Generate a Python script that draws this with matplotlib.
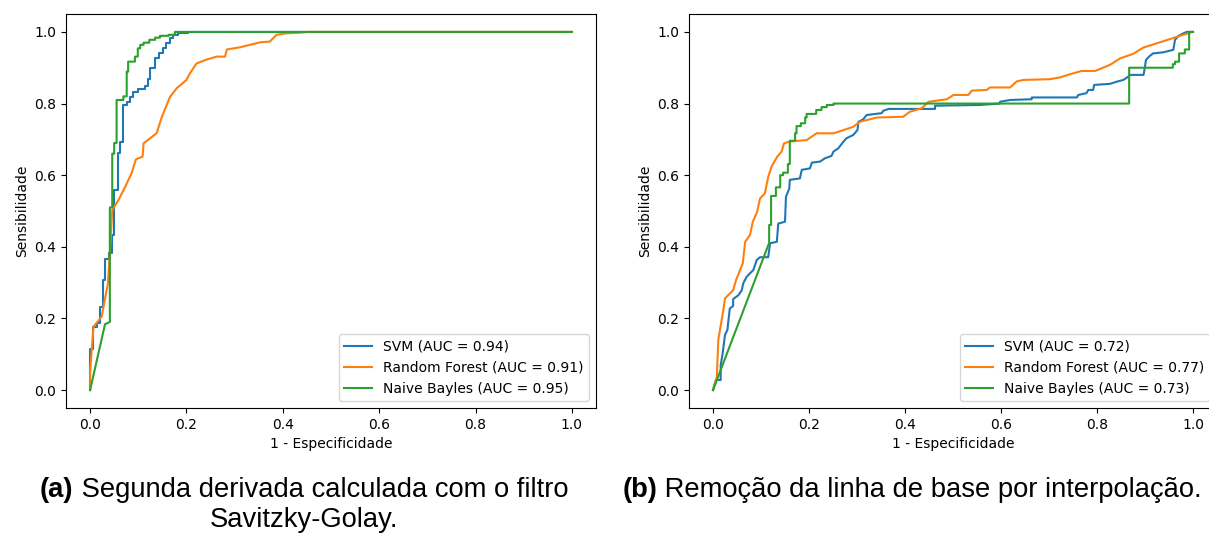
import matplotlib
matplotlib.use("Agg")
import matplotlib.pyplot as plt

# (a) Segunda derivada - Savitzky-Golay
svm_a_fpr = [0.0, 0.0, 0.007, 0.007, 0.014, 0.014, 0.021, 0.021, 0.026, 0.026, 0.031, 0.031,
             0.040, 0.040, 0.045, 0.045, 0.050, 0.050, 0.057, 0.057, 0.062, 0.062, 0.069, 0.069,
             0.076, 0.076, 0.083, 0.083, 0.090, 0.090, 0.100, 0.100, 0.114, 0.114, 0.121, 0.121,
             0.124, 0.124, 0.135, 0.135, 0.142, 0.142, 0.152, 0.152, 0.158, 0.158, 0.166, 0.166,
             0.173, 0.173, 0.183, 0.183, 0.204, 0.204, 1.0]
svm_a_tpr = [0.0, 0.115, 0.115, 0.177, 0.177, 0.187, 0.187, 0.233, 0.233, 0.307, 0.307, 0.366,
             0.366, 0.383, 0.383, 0.433, 0.433, 0.559, 0.559, 0.662, 0.662, 0.694, 0.694, 0.796,
             0.796, 0.805, 0.805, 0.819, 0.819, 0.831, 0.831, 0.840, 0.840, 0.849, 0.849, 0.868,
             0.868, 0.898, 0.898, 0.926, 0.926, 0.940, 0.940, 0.954, 0.954, 0.968, 0.968, 0.982,
             0.982, 0.992, 0.992, 0.996, 0.996, 1.0, 1.0]

rf_a_fpr = [0.0, 0.0, 0.007, 0.024, 0.037, 0.041, 0.046, 0.059, 0.073, 0.086, 0.095, 0.109,
            0.111, 0.138, 0.149, 0.166, 0.180, 0.200, 0.207, 0.221, 0.242, 0.263, 0.280, 0.284,
            0.311, 0.332, 0.353, 0.373, 0.387, 0.408, 0.439, 0.45, 1.0]
rf_a_tpr = [0.0, 0.05, 0.177, 0.205, 0.298, 0.382, 0.503, 0.531, 0.568, 0.605, 0.644, 0.652,
            0.689, 0.717, 0.763, 0.819, 0.843, 0.866, 0.884, 0.912, 0.923, 0.931, 0.931, 0.951,
            0.957, 0.964, 0.971, 0.973, 0.992, 0.996, 0.998, 1.0, 1.0]

nb_a_fpr = [0.0, 0.031, 0.041, 0.041, 0.046, 0.046, 0.050, 0.050, 0.055, 0.055, 0.069, 0.069,
            0.076, 0.076, 0.079, 0.079, 0.093, 0.093, 0.099, 0.099, 0.104, 0.104, 0.111, 0.111,
            0.123, 0.123, 0.135, 0.135, 0.145, 0.145, 0.163, 0.163, 0.176, 0.176, 1.0]
nb_a_tpr = [0.0, 0.184, 0.19, 0.51, 0.51, 0.66, 0.66, 0.69, 0.69, 0.81, 0.81, 0.82,
            0.82, 0.889, 0.889, 0.917, 0.917, 0.931, 0.931, 0.954, 0.954, 0.964, 0.964, 0.970,
            0.970, 0.978, 0.978, 0.984, 0.984, 0.989, 0.989, 0.992, 0.992, 1.0, 1.0]

# (b) Remocao da linha de base por interpolacao
svm_b_fpr = [0.0, 0.006, 0.016, 0.016, 0.020, 0.025, 0.030, 0.035, 0.042, 0.042, 0.053, 0.060,
             0.063, 0.070, 0.077, 0.084, 0.091, 0.098, 0.115, 0.119, 0.133, 0.136, 0.150, 0.152,
             0.159, 0.160, 0.181, 0.185, 0.202, 0.206, 0.223, 0.233, 0.247, 0.251, 0.261, 0.272,
             0.278, 0.292, 0.301, 0.303, 0.313, 0.320, 0.351, 0.355, 0.366, 0.4625, 0.4625, 0.556,
             0.598, 0.598, 0.619, 0.664, 0.664, 0.758, 0.761, 0.778, 0.782, 0.792, 0.794, 0.827,
             0.841, 0.855, 0.865, 0.869, 0.897, 0.900, 0.902, 0.910, 0.917, 0.938, 0.959, 0.9625,
             0.970, 0.980, 0.987, 1.0]
svm_b_tpr = [0.0, 0.028, 0.028, 0.069, 0.102, 0.154, 0.168, 0.228, 0.235, 0.254, 0.265, 0.279,
             0.298, 0.316, 0.326, 0.335, 0.363, 0.371, 0.371, 0.410, 0.414, 0.465, 0.470, 0.540,
             0.563, 0.587, 0.591, 0.615, 0.619, 0.635, 0.638, 0.647, 0.654, 0.666, 0.675, 0.694,
             0.703, 0.712, 0.726, 0.749, 0.756, 0.768, 0.773, 0.780, 0.785, 0.785, 0.794, 0.796,
             0.800, 0.805, 0.810, 0.812, 0.817, 0.817, 0.824, 0.829, 0.838, 0.838, 0.852, 0.855,
             0.861, 0.866, 0.875, 0.880, 0.880, 0.903, 0.922, 0.933, 0.940, 0.943, 0.950, 0.978,
             0.989, 0.996, 1.0, 1.0]

rf_b_fpr = [0.0, 0.008, 0.011, 0.021, 0.025, 0.042, 0.048, 0.062, 0.067, 0.077, 0.083, 0.092,
            0.098, 0.108, 0.115, 0.122, 0.134, 0.143, 0.148, 0.160, 0.195, 0.216, 0.251, 0.272,
            0.292, 0.306, 0.341, 0.396, 0.410, 0.435, 0.449, 0.487, 0.501, 0.532, 0.539, 0.570,
            0.577, 0.619, 0.633, 0.647, 0.702, 0.723, 0.744, 0.768, 0.796, 0.827, 0.848, 0.876,
            0.896, 0.924, 0.952, 0.980, 1.0]
rf_b_tpr = [0.0, 0.037, 0.140, 0.219, 0.256, 0.279, 0.307, 0.354, 0.414, 0.433, 0.470, 0.498,
            0.535, 0.549, 0.595, 0.624, 0.652, 0.666, 0.689, 0.694, 0.698, 0.717, 0.717, 0.726,
            0.735, 0.749, 0.761, 0.763, 0.777, 0.787, 0.805, 0.812, 0.824, 0.824, 0.836, 0.838,
            0.845, 0.845, 0.862, 0.866, 0.868, 0.873, 0.882, 0.891, 0.891, 0.908, 0.926, 0.939,
            0.956, 0.968, 0.980, 0.992, 1.0]

nb_b_fpr = [0.0, 0.117, 0.117, 0.121, 0.121, 0.131, 0.131, 0.140, 0.140, 0.146, 0.146, 0.156,
            0.156, 0.160, 0.160, 0.171, 0.171, 0.174, 0.174, 0.183, 0.183, 0.192, 0.192, 0.195,
            0.195, 0.215, 0.215, 0.226, 0.226, 0.237, 0.237, 0.251, 0.251, 0.867, 0.867, 0.958,
            0.958, 0.9625, 0.9625, 0.971, 0.971, 0.983, 0.983, 0.992, 0.992, 1.0]
nb_b_tpr = [0.0, 0.411, 0.461, 0.461, 0.542, 0.542, 0.566, 0.566, 0.600, 0.600, 0.607, 0.607,
            0.631, 0.631, 0.696, 0.696, 0.717, 0.717, 0.737, 0.737, 0.745, 0.745, 0.761, 0.761,
            0.771, 0.771, 0.782, 0.782, 0.790, 0.790, 0.796, 0.796, 0.800, 0.800, 0.900, 0.900,
            0.910, 0.910, 0.917, 0.917, 0.940, 0.940, 0.951, 0.951, 1.0, 1.0]

auc_a = [0.94, 0.91, 0.95]
auc_b = [0.72, 0.77, 0.73]
model_names = ["SVM", "Random Forest", "Naive Bayles"]

W, H = 1209, 534
fig = plt.figure(figsize=(W / 100, H / 100), dpi=100)
ax1 = fig.add_axes([66 / W, 126 / H, 530 / W, 394 / H])
ax2 = fig.add_axes([689 / W, 126 / H, 528 / W, 394 / H])

curves = [
    (ax1, [(svm_a_fpr, svm_a_tpr), (rf_a_fpr, rf_a_tpr), (nb_a_fpr, nb_a_tpr)], auc_a),
    (ax2, [(svm_b_fpr, svm_b_tpr), (rf_b_fpr, rf_b_tpr), (nb_b_fpr, nb_b_tpr)], auc_b),
]
for ax, data, aucs in curves:
    for (fpr, tpr), name, auc in zip(data, model_names, aucs):
        ax.plot(fpr, tpr, label=f"{name} (AUC = {auc:.2f})")
    ax.set_xlabel("1 - Especificidade")
    ax.set_ylabel("Sensibilidade")
    ax.legend(loc="lower right")

# captions: bold label + normal text, centred as one line
cap_font = dict(family="Liberation Sans", fontsize=19.7)
renderer = fig.canvas.get_renderer()


def caption(label, body, cx, cy):
    t1 = fig.text(0, cy / H, label, ha="left", va="baseline", fontweight="bold", **cap_font)
    t2 = fig.text(0, cy / H, " " + body, ha="left", va="baseline", **cap_font)
    w1 = t1.get_window_extent(renderer).width
    w2 = t2.get_window_extent(renderer).width
    x0 = cx - (w1 + w2) / 2
    t1.set_x(x0 / W)
    t2.set_x((x0 + w1) / W)


caption("(a)", "Segunda derivada calculada com o filtro", 304, H - 497)
fig.text(304 / W, (H - 527) / H, "Savitzky-Golay.", ha="center", va="baseline", **cap_font)
caption("(b)", "Remoção da linha de base por interpolação.", 912, H - 497)

fig.savefig("out.png", dpi=100)
